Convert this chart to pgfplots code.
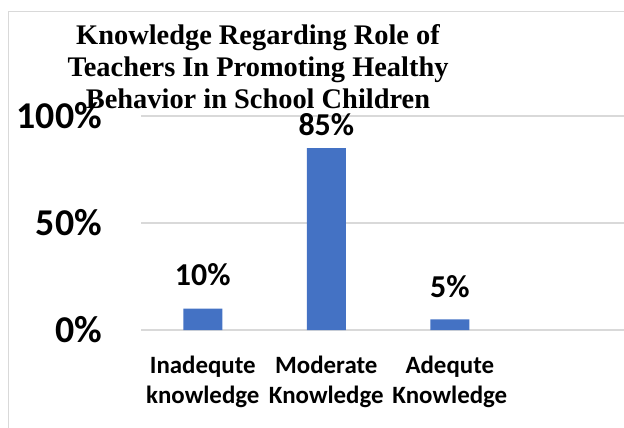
\documentclass[border=0pt]{standalone}
\usepackage{pgfplots}
\pgfplotsset{compat=1.18}
\usepackage{fontspec}
\setmainfont{Liberation Serif}
\newfontfamily\carlito{Carlito}
\definecolor{barblue}{HTML}{4472C4}
\definecolor{gridgray}{HTML}{D9D9D9}
\begin{document}
\begin{tikzpicture}
\useasboundingbox (0,0) rectangle (624bp,428bp);
\draw[gridgray, line width=1bp] (8bp,-10bp) -- (8bp,416bp) -- (640bp,416bp);
\begin{axis}[
  at={(141bp,98bp)}, anchor=south west,
  scale only axis, width=483bp, height=214bp,
  xmin=-0.5, xmax=3.41, ymin=0, ymax=100,
  axis line style={draw=none},
  ybar, bar width=39bp,
  xtick={0,1,2},
  xticklabels={{Inadequte\\knowledge},{Moderate\\Knowledge},{Adequte\\Knowledge}},
  ytick={0,50,100}, yticklabels={0\%,50\%,100\%},
  ymajorgrids, grid style={gridgray, line width=1.2bp},
  major tick length=0pt,
  clip=false,
  yticklabel style={font=\carlito\bfseries\fontsize{38}{40}\selectfont, inner sep=0pt, anchor=east, xshift=-39bp},
  xticklabel style={font=\carlito\bfseries\fontsize{25}{30}\selectfont, inner sep=0pt, anchor=north, yshift=-25.5bp, align=center},
  nodes near coords={\pgfmathprintnumber[assume math mode=true]{\pgfplotspointmeta}\%},
]
\addplot[fill=barblue, draw=none,
  visualization depends on={value \thisrow{off} \as \off},
  nodes near coords style={font=\carlito\bfseries\fontsize{32}{34}\selectfont, anchor=base, inner sep=0pt, yshift=\off bp, black}]
  table[x=x, y=y] {
x y off
0 10 23
1 85 13
2 5 22
};
\end{axis}
\node[align=center, inner sep=0pt, anchor=north, font=\bfseries\fontsize{28.5}{32.5}\selectfont] at (258bp,404bp)
  {Knowledge Regarding Role of\\Teachers In Promoting Healthy\\Behavior in School Children};
\end{tikzpicture}
\end{document}
